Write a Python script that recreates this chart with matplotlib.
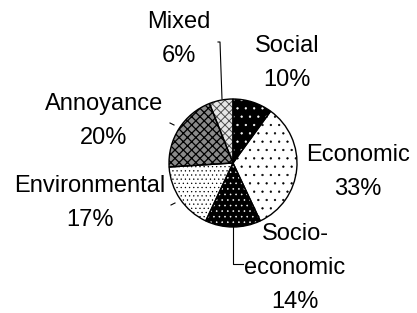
import matplotlib
matplotlib.use("Agg")
import matplotlib.pyplot as plt

categories = ["Social", "Economic", "Socio-\neconomic", "Environmental", "Annoyance", "Mixed"]
values = [10, 33, 14, 17, 20, 6]
face_colors = ["black", "white", "black", "white", "#8a8a8a", "#e6e6e6"]
hatch_colors = ["white", "black", "white", "black", "black", "#505050"]
hatches = ["..", "..", "...", "....", "xxxx", "xxxx"]
hatch_lws = [0.4, 0.4, 0.4, 0.4, 0.9, 0.7]

label_pos = [(287, 63), (358, 172), (295, 268), (90, 203), (104, 121), (179, 39)]

plt.rcParams["hatch.linewidth"] = 0.4

W, H = 417, 313
fig = plt.figure(figsize=(W / 100, H / 100), dpi=100)
ax = fig.add_axes([0, 0, 1, 1])
cx, cy, r = 233, H - 163, 64

w1, _ = ax.pie(values, startangle=90, counterclock=False, center=(cx, cy), radius=r,
               wedgeprops=dict(linewidth=0))
for w, fc, hc, h, hl in zip(w1, face_colors, hatch_colors, hatches, hatch_lws):
    w.set_facecolor(fc)
    w.set_edgecolor(hc)
    w.set_hatch(h)
    if hasattr(w, "set_hatch_linewidth"):
        w.set_hatch_linewidth(hl)
ax.pie(values, startangle=90, counterclock=False, center=(cx, cy), radius=r,
       wedgeprops=dict(facecolor="none", edgecolor="black", linewidth=1.0))

font = dict(family=["Liberation Sans", "DejaVu Sans"], fontsize=17)
for lab, v, (px, py) in zip(categories, values, label_pos):
    ax.text(px, H - py, f"{lab}\n{v}%", ha="center", va="center", linespacing=1.68, **font)

# leader lines
ax.plot([218, 220, 222], [H - 42, H - 42, H - 99], color="black", lw=0.8)
ax.plot([243, 233, 233], [H - 264, H - 264, H - 227], color="black", lw=0.8)
ax.plot([171, 175], [H - 205, H - 203], color="black", lw=0.8)
ax.plot([170, 174], [H - 123, H - 125], color="black", lw=0.8)

ax.set_xlim(0, W)
ax.set_ylim(0, H)
ax.set_aspect("equal")
ax.axis("off")
fig.savefig("out.png", dpi=100)
